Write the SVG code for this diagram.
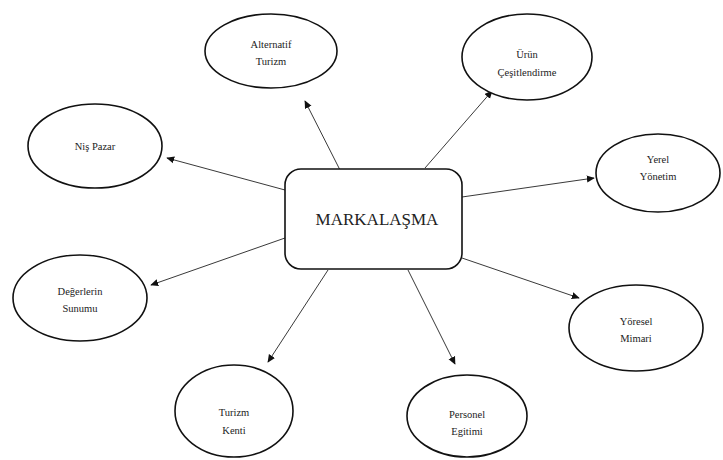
<svg xmlns="http://www.w3.org/2000/svg" width="723" height="460" viewBox="0 0 723 460">
<style>
.n{fill:#fff;stroke:#111;stroke-width:1.6}
.t{font-family:"Liberation Serif",serif;font-size:10.5px;fill:#222;text-anchor:middle}
.c line{stroke:#222;stroke-width:0.9}
</style>
<defs>
<marker id="ah" viewBox="0 0 10 10" refX="9" refY="5" markerWidth="8" markerHeight="8" markerUnits="userSpaceOnUse" orient="auto">
<path d="M0,0.5 L10,5 L0,9.5 z" fill="#111"/>
</marker>
</defs>
<rect width="723" height="460" fill="#fff"/>
<g class="c" marker-end="url(#ah)">
<line x1="340" y1="170" x2="305" y2="101" marker-end="url(#ah)"/>
<line x1="425" y1="168" x2="492" y2="91" marker-end="url(#ah)"/>
<line x1="285" y1="190" x2="167" y2="158" marker-end="url(#ah)"/>
<line x1="462" y1="197" x2="594" y2="178" marker-end="url(#ah)"/>
<line x1="285" y1="238" x2="151" y2="285" marker-end="url(#ah)"/>
<line x1="462" y1="258" x2="579" y2="298" marker-end="url(#ah)"/>
<line x1="328" y1="270" x2="268" y2="362" marker-end="url(#ah)"/>
<line x1="408" y1="270" x2="455" y2="364" marker-end="url(#ah)"/>
</g>
<g id="center">
<rect class="n" x="285" y="169" width="177" height="100" rx="16"/>
<text x="377" y="225" style="font-family:'Liberation Serif',serif;font-size:17px;fill:#222;text-anchor:middle">MARKALAŞMA</text>
</g>
<g id="alternatif">
<ellipse class="n" cx="271" cy="51" rx="66" ry="37"/>
<text class="t" x="271" y="48">Alternatif</text>
<text class="t" x="271" y="65">Turizm</text>
</g>
<g id="urun">
<ellipse class="n" cx="527" cy="57" rx="65" ry="43"/>
<text class="t" x="527" y="58">Ürün</text>
<text class="t" x="527" y="76">Çeşitlendirme</text>
</g>
<g id="nis">
<ellipse class="n" cx="95" cy="146" rx="67" ry="42"/>
<text class="t" x="95" y="150">Niş Pazar</text>
</g>
<g id="yerel">
<ellipse class="n" cx="658" cy="173" rx="62" ry="39"/>
<text class="t" x="658" y="163">Yerel</text>
<text class="t" x="658" y="180">Yönetim</text>
</g>
<g id="degerlerin">
<ellipse class="n" cx="80" cy="298" rx="67" ry="43"/>
<text class="t" x="80" y="295">Değerlerin</text>
<text class="t" x="80" y="312">Sunumu</text>
</g>
<g id="yoresel">
<ellipse class="n" cx="636" cy="328" rx="67" ry="43"/>
<text class="t" x="636" y="325">Yöresel</text>
<text class="t" x="636" y="342">Mimari</text>
</g>
<g id="turizm">
<ellipse class="n" cx="234" cy="411" rx="59" ry="46"/>
<text class="t" x="234" y="416">Turizm</text>
<text class="t" x="234" y="434">Kenti</text>
</g>
<g id="personel">
<ellipse class="n" cx="467" cy="416" rx="60" ry="41"/>
<text class="t" x="467" y="418">Personel</text>
<text class="t" x="467" y="435">Egitimi</text>
</g>
</svg>
